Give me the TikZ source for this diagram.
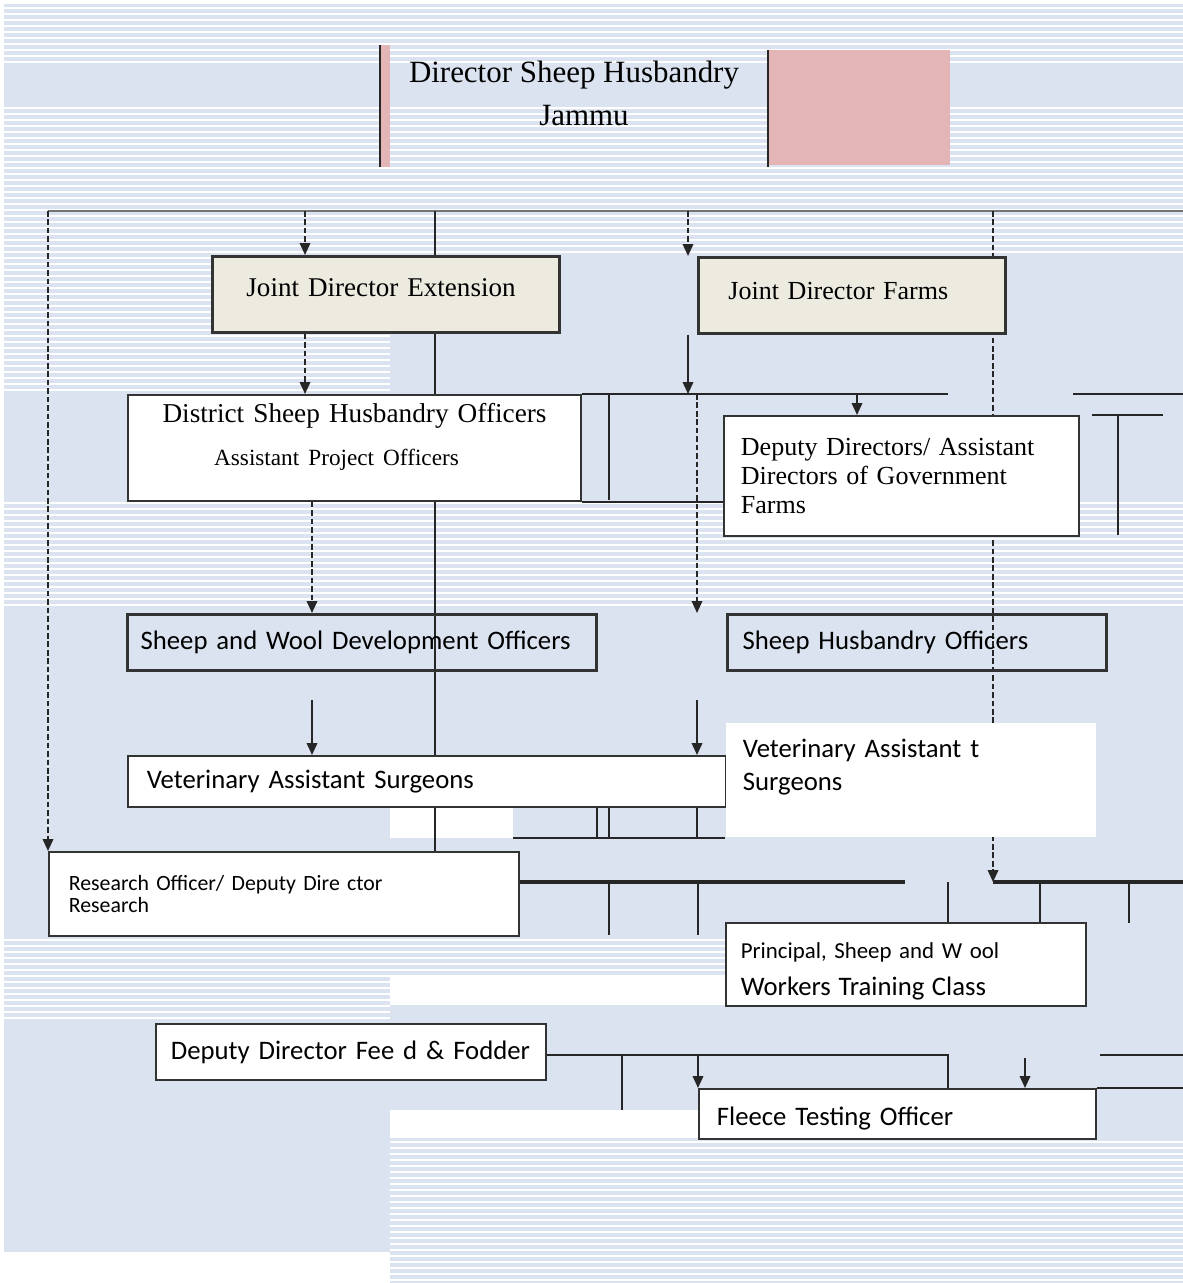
\documentclass[tikz,border=0pt]{standalone}
\usepackage{fontspec}
\setmainfont{Liberation Serif}
\newfontfamily\cali{Carlito}
\usetikzlibrary{positioning, backgrounds, arrows.meta}
\definecolor{paper}{RGB}{218,227,239}
\definecolor{beige}{RGB}{237,234,224}
\definecolor{rose}{RGB}{228,181,182}
\tikzset{
	box/.style={rectangle, draw=black!80, line width=0.5pt, anchor=north west,
		inner ysep=0pt, align=left},
	whitebox/.style={box, fill=white},
	jointbox/.style={box, fill=beige, line width=0.8pt},
	rankbox/.style={box, line width=0.9pt},
	sans/.style={font=\cali\fontsize{7.6}{9.2}\selectfont},
	link/.style={draw=black!85, line width=0.5pt},
	arr/.style={link, -{Triangle[length=3.4pt,width=3pt]}},
	dashlink/.style={dash pattern=on 1.6pt off 0.8pt},
	stripe/.style={white, line width=0.45pt},
	barline/.style={link, line width=1.2pt},
}

\begin{document}
\begin{tikzpicture}[x=0.01cm, y=-0.01cm]
\useasboundingbox (0,0) rectangle (1183,1283);

% head
\node[box, draw=none, minimum width=3.86cm, minimum height=1.2cm, align=center,
	font=\fontsize{8.8}{12.2}\selectfont] (dir) at (380,45)
	{Director Sheep Husbandry\\\hspace*{0.2cm}Jammu\rule[-0.26cm]{0pt}{0pt}};

% joint directors
\node[jointbox, minimum height=0.76cm, inner xsep=0.34cm, text width=2.79cm,
	font=\fontsize{7.7}{9}\selectfont] (jde) at (211,255)
	{Joint Director Extension\rule[-0.14cm]{0pt}{0pt}};
\node[jointbox, minimum height=0.76cm, inner xsep=0.30cm, text width=2.47cm,
	font=\fontsize{7.4}{9}\selectfont] (jdf) at (697,256)
	{Joint Director Farms\rule[-0.1cm]{0pt}{0pt}};

% district level
\node[whitebox, minimum height=1.06cm, inner xsep=0pt, text width=4.53cm, align=center,
	font=\fontsize{7.75}{12.2}\selectfont] (dsho) at (127,394)
	{District Sheep Husbandry Officers\\
	{\fontsize{6.6}{12.2}\selectfont\hspace*{-0.36cm}Assistant Project Officers\rule[-0.27cm]{0pt}{0pt}}};
\node[whitebox, minimum height=1.2cm, inner xsep=0.17cm, text width=3.21cm,
	font=\fontsize{7.4}{8.3}\selectfont] (dd) at (723,415)
	{Deputy Directors/ Assistant\\Directors of Government\\Farms};

% officers
\node[rankbox, sans, minimum height=0.56cm, inner xsep=0.13cm, text width=4.43cm]
	(swdo) at (126,613) {Sheep and Wool Development Officers};
\node[rankbox, sans, minimum height=0.56cm, inner xsep=0.15cm, text width=3.49cm]
	(sho) at (726,613) {Sheep Husbandry Officers};
\node[whitebox, sans, minimum height=0.51cm, inner xsep=0.19cm, text width=5.6cm]
	(vas) at (127,755) {Veterinary Assistant Surgeons};
\node[whitebox, sans, draw=none, minimum height=1.14cm, inner xsep=0.17cm, text width=3.36cm]
	(vas2) at (725,722) {Veterinary Assistant t\\Surgeons\rule[-0.3cm]{0pt}{0pt}};

% research and training
\node[whitebox, minimum height=0.84cm, inner xsep=0.2cm, text width=4.3cm,
	font=\cali\fontsize{6.2}{6.1}\selectfont] (ro) at (48,851)
	{Research Officer/ Deputy Dire ctor\\Research};
\node[whitebox, minimum height=0.83cm, inner xsep=0.15cm, text width=3.3cm,
	font=\cali\fontsize{6.5}{10.5}\selectfont] (pswt) at (725,922)
	{\rule{0pt}{0.3cm}Principal, Sheep and W ool\\{\fontsize{7.6}{10.5}\selectfont Workers Training Class}};
\node[whitebox, sans, minimum height=0.56cm, inner xsep=0.15cm, text width=3.6cm]
	(ddff) at (155,1023) {\mbox{Deputy Director Fee d \& Fodder}};
\node[whitebox, sans, minimum height=0.5cm, inner xsep=0.18cm, text width=3.61cm]
	(fto) at (698,1088) {\rule{0pt}{0.28cm}Fleece Testing Officer};

% free ends
\foreach \x/\n in {48/a,305/b,435/c,688/d,993/e}
	\coordinate (drop\n) at (\x,211);
\coordinate (busEnd) at (1183,211);
\coordinate (barL) at (435,882);
\coordinate (barLend) at (905,882);
\coordinate (barR) at (993,882);
\coordinate (barRend) at (1183,882);
\coordinate (farmbusEnd) at (948,394);
\coordinate (ddtap) at (857,394);
\coordinate (shotap) at (697,394);
\coordinate (ltap) at (312,500);
\coordinate (ltap2) at (312,700);
\coordinate (rtap2) at (697,700);
\coordinate (fodL) at (622,1055);
\coordinate (fodR) at (948,1055);
\coordinate (ftotap) at (1025,1058);

\begin{scope}[on background layer]
\fill[white] (0,0) rectangle (1183,1283);
\fill[paper] (4,4) rectangle (1183,1252);
\fill[paper] (390,1252) rectangle (1183,1283);
	%scan stripes
\foreach \y in {8,14,...,62} \draw[stripe] (4,\y) -- (1183,\y);
\foreach \y in {108,114,...,252} \draw[stripe] (4,\y) -- (1183,\y);
\foreach \y in {258,264,...,390} \draw[stripe] (4,\y) -- (390,\y);
\foreach \y in {503,509,...,605} \draw[stripe] (4,\y) -- (1183,\y);
\foreach \y in {940,946,...,1018} \draw[stripe] (4,\y) -- (390,\y);
\foreach \y in {940,946,...,972} \draw[stripe] (390,\y) -- (725,\y);
\foreach \y in {1142,1148,...,1280} \draw[stripe] (390,\y) -- (1183,\y);

\fill[rose] (dir.north west) rectangle ([xshift=0.1cm]dir.south west);
\fill[rose] ([yshift=-0.05cm]dir.north east) rectangle ++(182,115);
\draw[link] (dir.north west) -- (dir.south west);
\draw[link] ([yshift=-0.05cm]dir.north east) -- (dir.south east);
\fill[white] (390,806) rectangle (513,838);
\fill[white] (390,975) rectangle (725,1005);
\fill[white] (390,1110) rectangle (698,1138);

\draw[link, black!55] (dropa) -- (busEnd);
\draw[arr, dashlink] (dropa) -- (dropa |- ro.north);
\draw[arr, dashlink] (dropb) -- (dropb |- jde.north);
\draw[arr] (dropc) -- (barL);
\draw[arr, dashlink] (dropd) -- (dropd |- jdf.north);
\draw[arr, dashlink] (drope) -- (barR);
\draw[arr, dashlink] (dropb |- jde.south) -- (dropb |- dsho.north);
\draw[arr] (dropd |- jdf.south) -- (dropd |- dsho.north);
\draw[link] (dsho.north east) -- (farmbusEnd);
\draw[arr] (ddtap) -- (ddtap |- dd.north);
\draw[arr, dashlink] (shotap) -- (shotap |- sho.north);
\draw[arr, dashlink] (ltap |- dsho.south) -- (ltap |- swdo.north);
\draw[arr] (ltap2) -- (ltap2 |- vas.north);
\draw[arr] (rtap2) -- (rtap2 |- vas.north);
\draw[barline] (barL) -- (barLend);
\draw[barline] (barR) -- (barRend);

	%loose rules of the scan
\draw[link] (609,394) -- (609,500);
\draw[link] (dsho.south east) -- (dsho.south east -| dd.west);
\draw[link] (1073,394) -- (1183,394);
\draw[link] (1092,415) -- (1163,415);
\draw[link] (1118,415) -- (1118,535);
\draw[link] (513,838) -- (725,838);
\foreach \x in {597,609,697} \draw[link] (\x,787) -- (\x,838);
\foreach \x in {518,609,698} \draw[link] (\x,882) -- (\x,935);
\foreach \x in {948,1040,1129} \draw[link] (\x,882) -- (\x,923);

\draw[link] (ddff.east |- fodL) -- (fodL) -- (fodR) -- (fodR |- fto.north);
\draw[link] (fodL) -- (622,1110);
\draw[arr] (fodL -| fto.north west) -- (fto.north west);
\draw[arr] (ftotap) -- (ftotap |- fto.north);
\draw[link] (1100,1055) -- (1183,1055);
\draw[link] (fto.north east) -- (1183,1088);
\end{scope}

\end{tikzpicture}
\end{document}
